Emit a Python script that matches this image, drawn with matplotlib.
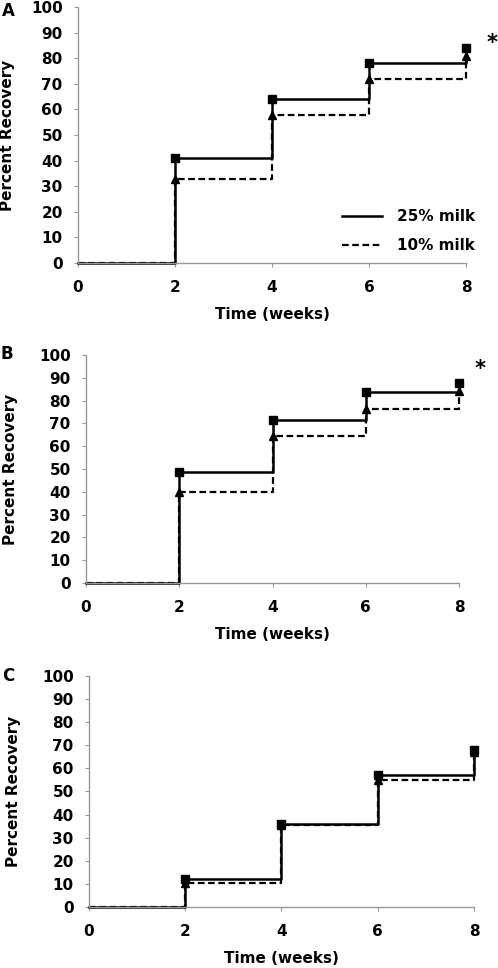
import matplotlib.pyplot as plt
from matplotlib.lines import Line2D

plt.rcParams["font.family"] = ["DejaVu Sans"]
plt.rcParams["font.weight"] = "bold"

weeks = [0, 2, 4, 6, 8]

# panel A
a_milk25 = [0, 41, 64, 78, 84]
a_milk10 = [0, 33, 58, 72, 81]
# panel B
b_milk25 = [0, 48.5, 71.5, 83.6, 87.6]
b_milk10 = [0, 39.7, 64.5, 76.5, 84.4]
# panel C
c_milk25 = [0, 12, 36, 57, 68]
c_milk10 = [0, 10.4, 35.3, 55, 67]

# axes boxes, figure fraction (left, bottom, width, height)
panels = [
    ("A", a_milk25, a_milk10, 86, [0.1566, 0.7283, 0.7791, 0.2645]),
    ("B", b_milk25, b_milk10, 94, [0.1727, 0.3977, 0.7490, 0.2356]),
    ("C", c_milk25, c_milk10, None, [0.1787, 0.0630, 0.7731, 0.2387]),
]
letter_xy = {"A": (8, 11), "B": (7, 354), "C": (8, 676)}
ylabel_x = {"A": 8, "B": 11, "C": 14}
star_x = {"A": 1.067, "B": 1.056}

W, H = 498, 968
fig = plt.figure(figsize=(W / 100, H / 100), dpi=100)
dash = (0, (3, 1.6))

for letter, s25, s10, star_y, pos in panels:
    ax = fig.add_axes(pos)
    ax.step(weeks, s10, where="post", color="black", lw=1.6, ls=dash,
            clip_on=False)
    ax.step(weeks, s25, where="post", color="black", lw=1.8, clip_on=False)
    ax.plot(weeks[1:], s10[1:], ls="none", marker="^", ms=6, color="black",
            clip_on=False)
    ax.plot(weeks[1:], s25[1:], ls="none", marker="s", ms=6, color="black",
            clip_on=False)

    ax.set_xlim(0, 8)
    ax.set_ylim(0, 100)
    ax.set_xticks(range(0, 9, 2))
    ax.set_yticks(range(0, 101, 10))
    for side in ("top", "right"):
        ax.spines[side].set_visible(False)
    for side in ("left", "bottom"):
        ax.spines[side].set_color("#999999")
        ax.spines[side].set_linewidth(1.0)
    ax.tick_params(axis="both", colors="#999999", labelcolor="black",
                   length=3, labelsize=11)
    ax.tick_params(axis="x", pad=9)
    ax.tick_params(axis="y", pad=8)
    ax.set_xlabel("Time (weeks)", fontsize=11, fontweight="bold", labelpad=9)
    ax.set_ylabel("Percent Recovery", fontsize=11, fontweight="bold",
                  va="center")
    ax.yaxis.set_label_coords(ylabel_x[letter] / W, pos[1] + pos[3] / 2,
                              transform=fig.transFigure)
    lx, ly = letter_xy[letter]
    fig.text(lx / W, 1 - ly / H, letter, fontsize=12, fontweight="bold",
             ha="center", va="center")
    if star_y is not None:
        ax.text(star_x[letter], star_y, "*", transform=ax.get_yaxis_transform(),
                fontsize=15, fontweight="bold", ha="center", va="center")

    if letter == "A":
        handles = [Line2D([], [], color="black", lw=1.8),
                   Line2D([], [], color="black", lw=1.6, ls=dash)]
        ax.legend(handles, ["25% milk", "10% milk"], loc="lower right",
                  bbox_to_anchor=(1.06, -0.015), frameon=False, fontsize=11,
                  handlelength=2.6, handletextpad=1.0, labelspacing=0.9)

fig.savefig("out.png", dpi=100)
